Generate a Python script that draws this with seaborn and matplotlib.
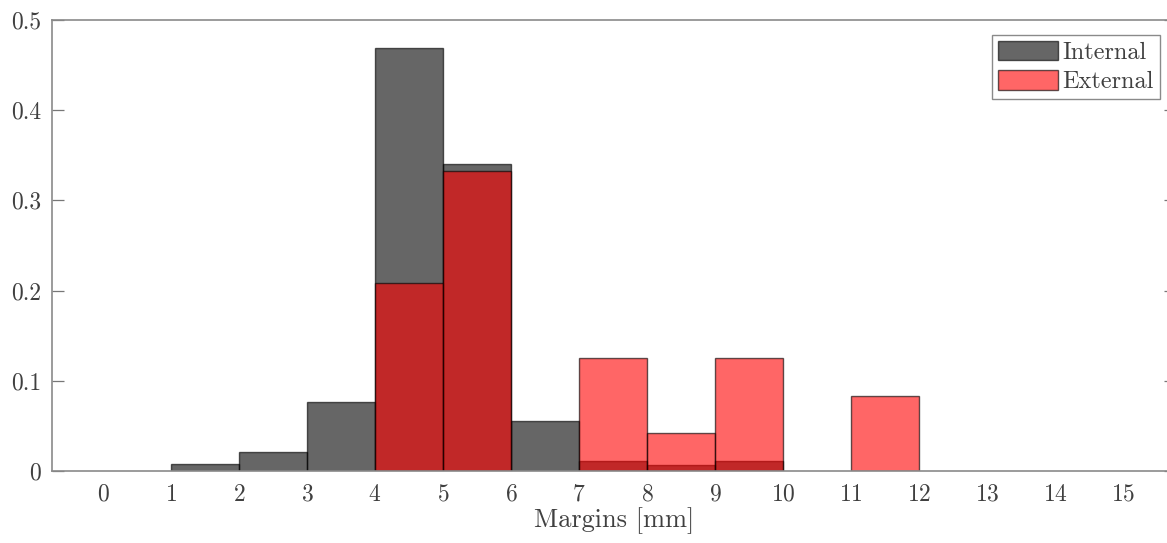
import numpy as np
import matplotlib
matplotlib.use("Agg")
import matplotlib.pyplot as plt
import seaborn as sns

# Histogram bin edges (mm) and the fraction of cases falling in each bin
bin_edges = list(range(0, 16))
internal_frac = [0.0, 0.0074, 0.0214, 0.076, 0.469, 0.340, 0.055,
                 0.0114, 0.0066, 0.0114, 0.0, 0.0, 0.0, 0.0, 0.0]
external_frac = [0.0, 0.0, 0.0, 0.0, 0.208, 0.333, 0.0,
                 0.125, 0.042, 0.125, 0.0, 0.083, 0.0, 0.0, 0.0]
series_labels = ["Internal", "External"]
x_ticks = list(range(0, 16))
y_ticks = [0, 0.1, 0.2, 0.3, 0.4, 0.5]

sns.set_theme(style="white")
plt.rcParams["font.family"] = ["cmr10", "DejaVu Serif"]
plt.rcParams["axes.formatter.use_mathtext"] = True

bin_centers = [e + 0.5 for e in bin_edges[:-1]]

W, H = 1167, 543
fig = plt.figure(figsize=(W / 100, H / 100), dpi=100)
ax = fig.add_axes([52 / W, 1 - 471 / H, (1176 - 52) / W, (471 - 20) / H])

sns.histplot(x=bin_centers, weights=internal_frac, bins=bin_edges,
             color="black", alpha=0.6, linewidth=1.0,
             label=series_labels[0], ax=ax)
sns.histplot(x=bin_centers, weights=external_frac, bins=bin_edges,
             color="red", alpha=0.6, linewidth=1.0,
             label=series_labels[1], ax=ax)

# Semi-transparent dark outlines; empty bins are not drawn
for p in ax.patches:
    p.set_edgecolor((0, 0, 0, 0.62))
    if p.get_height() == 0:
        p.set_visible(False)

ax.set_xlim(-0.75, 15.78)
ax.set_ylim(0, 0.5)
ax.set_xticks(x_ticks)
ax.set_yticks(y_ticks)
ax.set_yticklabels([f"{v:g}" for v in y_ticks])
ax.set_xlabel("Margins [mm]", fontsize=19, color="#404040", labelpad=1)
ax.set_ylabel("")

ax.tick_params(axis="x", length=0, labelsize=17, labelcolor="#404040", pad=9)
ax.tick_params(axis="y", direction="in", length=8.5, width=0.9, color="#777777",
               labelsize=17, labelcolor="#404040", left=True, right=True, pad=8)
for s in ax.spines.values():
    s.set_visible(True)
    s.set_color("#8a8a8a")
    s.set_linewidth(1.2)

leg = ax.legend(loc="upper right", bbox_to_anchor=((1160 - 52) / (1176 - 52), 0.9667),
                borderaxespad=0, fontsize=17.5, frameon=True, fancybox=False,
                framealpha=1, edgecolor="#8a8a8a", handlelength=2.45,
                handleheight=0.85, handletextpad=0.2, labelspacing=0.25,
                borderpad=0.25)
leg.get_frame().set_linewidth(1.0)
for t in leg.get_texts():
    t.set_color("#404040")
for h in leg.legend_handles:
    h.set_visible(True)
    h.set_edgecolor((0, 0, 0, 0.62))

fig.savefig("out.png", dpi=100)
